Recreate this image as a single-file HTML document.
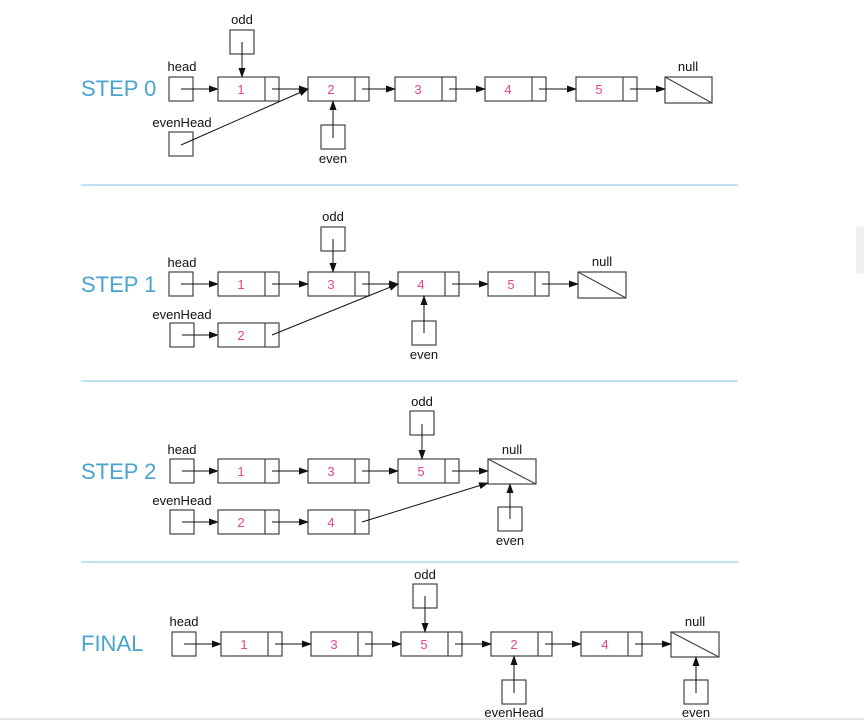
<!DOCTYPE html>
<html><head><meta charset="utf-8"><style>
html,body{margin:0;padding:0;background:#fff;width:864px;height:727px;overflow:hidden}
svg{display:block}
text{font-family:"Liberation Sans",Arial,sans-serif}
.l{font-size:13px;fill:#111;text-anchor:middle}
.n{font-size:13px;fill:#e8448c;text-anchor:middle}
.s{font-size:22px;fill:#4aa3cf}
rect{fill:#fff;stroke:#444;stroke-width:1.2}
line.a{stroke:#111;stroke-width:1;marker-end:url(#ah)}
line.d{stroke:#444;stroke-width:1.2}
</style></head><body>
<svg width="864" height="727" viewBox="0 0 864 727" xmlns="http://www.w3.org/2000/svg">
<defs><marker id="ah" markerWidth="10" markerHeight="8" refX="9" refY="3.5" orient="auto" markerUnits="userSpaceOnUse"><path d="M0,0 L10,3.5 L0,7 z" fill="#111"/></marker></defs>
<rect x="856" y="226" width="10" height="48" rx="3" style="fill:#eef0f2;stroke:none"/>
<line x1="81" y1="185" x2="738" y2="185" stroke="#a8daf2" stroke-width="1.5"/>
<line x1="81" y1="381" x2="738" y2="381" stroke="#a8daf2" stroke-width="1.5"/>
<line x1="81" y1="562" x2="738" y2="562" stroke="#a8daf2" stroke-width="1.5"/>
<line x1="0" y1="719" x2="864" y2="719" stroke="#e4e4e4" stroke-width="2"/>

<!-- STEP 0 -->
<text class="s" x="81" y="96">STEP 0</text>
<text class="l" x="182" y="71">head</text>
<rect x="169" y="77" width="24" height="24"/>
<line class="a" x1="181" y1="89" x2="218" y2="89"/>
<rect x="218" y="77" width="61" height="24"/><line class="d" x1="265" y1="77" x2="265" y2="101"/><text class="n" x="241" y="94">1</text>
<rect x="308" y="77" width="61" height="24"/><line class="d" x1="355" y1="77" x2="355" y2="101"/><text class="n" x="331" y="94">2</text>
<rect x="395" y="77" width="61" height="24"/><line class="d" x1="442" y1="77" x2="442" y2="101"/><text class="n" x="418" y="94">3</text>
<rect x="485" y="77" width="61" height="24"/><line class="d" x1="532" y1="77" x2="532" y2="101"/><text class="n" x="508" y="94">4</text>
<rect x="576" y="77" width="61" height="24"/><line class="d" x1="623" y1="77" x2="623" y2="101"/><text class="n" x="599" y="94">5</text>
<rect x="665" y="77" width="47" height="26"/><line class="d" x1="665" y1="77" x2="712" y2="103"/>
<text class="l" x="688" y="71">null</text>
<line class="a" x1="272" y1="89" x2="308" y2="89"/>
<line class="a" x1="362" y1="89" x2="395" y2="89"/>
<line class="a" x1="449" y1="89" x2="485" y2="89"/>
<line class="a" x1="539" y1="89" x2="576" y2="89"/>
<line class="a" x1="630" y1="89" x2="665" y2="89"/>
<text class="l" x="242" y="24">odd</text>
<rect x="230" y="30" width="24" height="24"/>
<line class="a" x1="242" y1="42" x2="242" y2="77"/>
<text class="l" x="182" y="127">evenHead</text>
<rect x="169" y="132" width="24" height="24"/>
<line class="a" x1="181" y1="145" x2="308" y2="89"/>
<rect x="321" y="125" width="24" height="24"/>
<line class="a" x1="333" y1="138" x2="333" y2="101"/>
<text class="l" x="333" y="163">even</text>

<!-- STEP 1 -->
<text class="s" x="81" y="292">STEP 1</text>
<text class="l" x="182" y="267">head</text>
<rect x="169" y="272" width="24" height="24"/>
<line class="a" x1="181" y1="284" x2="218" y2="284"/>
<rect x="218" y="272" width="61" height="24"/><line class="d" x1="265" y1="272" x2="265" y2="296"/><text class="n" x="241" y="289">1</text>
<rect x="308" y="272" width="61" height="24"/><line class="d" x1="355" y1="272" x2="355" y2="296"/><text class="n" x="331" y="289">3</text>
<rect x="398" y="272" width="61" height="24"/><line class="d" x1="445" y1="272" x2="445" y2="296"/><text class="n" x="421" y="289">4</text>
<rect x="488" y="272" width="61" height="24"/><line class="d" x1="535" y1="272" x2="535" y2="296"/><text class="n" x="511" y="289">5</text>
<rect x="578" y="272" width="48" height="26"/><line class="d" x1="578" y1="272" x2="626" y2="298"/>
<text class="l" x="602" y="266">null</text>
<line class="a" x1="272" y1="284" x2="308" y2="284"/>
<line class="a" x1="362" y1="284" x2="398" y2="284"/>
<line class="a" x1="452" y1="284" x2="488" y2="284"/>
<line class="a" x1="542" y1="284" x2="578" y2="284"/>
<text class="l" x="333" y="221">odd</text>
<rect x="321" y="227" width="24" height="24"/>
<line class="a" x1="333" y1="239" x2="333" y2="272"/>
<text class="l" x="182" y="319">evenHead</text>
<rect x="170" y="323" width="24" height="24"/>
<line class="a" x1="182" y1="335" x2="218" y2="335"/>
<rect x="218" y="323" width="61" height="24"/><line class="d" x1="265" y1="323" x2="265" y2="347"/><text class="n" x="241" y="340">2</text>
<line class="a" x1="272" y1="335" x2="398" y2="284"/>
<rect x="412" y="321" width="24" height="24"/>
<line class="a" x1="424" y1="333" x2="424" y2="296"/>
<text class="l" x="424" y="359">even</text>

<!-- STEP 2 -->
<text class="s" x="81" y="479">STEP 2</text>
<text class="l" x="182" y="454">head</text>
<rect x="170" y="459" width="24" height="24"/>
<line class="a" x1="182" y1="471" x2="218" y2="471"/>
<rect x="218" y="459" width="61" height="24"/><line class="d" x1="265" y1="459" x2="265" y2="483"/><text class="n" x="241" y="476">1</text>
<rect x="308" y="459" width="61" height="24"/><line class="d" x1="355" y1="459" x2="355" y2="483"/><text class="n" x="331" y="476">3</text>
<rect x="398" y="459" width="61" height="24"/><line class="d" x1="445" y1="459" x2="445" y2="483"/><text class="n" x="421" y="476">5</text>
<rect x="488" y="459" width="48" height="25"/><line class="d" x1="488" y1="459" x2="536" y2="484"/>
<text class="l" x="512" y="454">null</text>
<line class="a" x1="272" y1="471" x2="308" y2="471"/>
<line class="a" x1="362" y1="471" x2="398" y2="471"/>
<line class="a" x1="452" y1="471" x2="488" y2="471"/>
<text class="l" x="422" y="406">odd</text>
<rect x="410" y="411" width="24" height="24"/>
<line class="a" x1="422" y1="424" x2="422" y2="459"/>
<text class="l" x="182" y="505">evenHead</text>
<rect x="170" y="510" width="24" height="24"/>
<line class="a" x1="182" y1="522" x2="218" y2="522"/>
<rect x="218" y="510" width="61" height="24"/><line class="d" x1="265" y1="510" x2="265" y2="534"/><text class="n" x="241" y="527">2</text>
<rect x="308" y="510" width="61" height="24"/><line class="d" x1="355" y1="510" x2="355" y2="534"/><text class="n" x="331" y="527">4</text>
<line class="a" x1="272" y1="522" x2="308" y2="522"/>
<line class="a" x1="362" y1="522" x2="488" y2="483"/>
<rect x="498" y="507" width="24" height="24"/>
<line class="a" x1="510" y1="519" x2="510" y2="484"/>
<text class="l" x="510" y="545">even</text>

<!-- FINAL -->
<text class="s" x="81" y="651">FINAL</text>
<text class="l" x="184" y="626">head</text>
<rect x="172" y="632" width="24" height="24"/>
<line class="a" x1="184" y1="644" x2="221" y2="644"/>
<rect x="221" y="632" width="61" height="24"/><line class="d" x1="268" y1="632" x2="268" y2="656"/><text class="n" x="244" y="649">1</text>
<rect x="311" y="632" width="61" height="24"/><line class="d" x1="358" y1="632" x2="358" y2="656"/><text class="n" x="334" y="649">3</text>
<rect x="401" y="632" width="61" height="24"/><line class="d" x1="448" y1="632" x2="448" y2="656"/><text class="n" x="424" y="649">5</text>
<rect x="491" y="632" width="61" height="24"/><line class="d" x1="538" y1="632" x2="538" y2="656"/><text class="n" x="514" y="649">2</text>
<rect x="581" y="632" width="61" height="24"/><line class="d" x1="628" y1="632" x2="628" y2="656"/><text class="n" x="605" y="649">4</text>
<rect x="671" y="632" width="48" height="25"/><line class="d" x1="671" y1="632" x2="719" y2="657"/>
<text class="l" x="695" y="626">null</text>
<line class="a" x1="275" y1="644" x2="311" y2="644"/>
<line class="a" x1="365" y1="644" x2="401" y2="644"/>
<line class="a" x1="455" y1="644" x2="491" y2="644"/>
<line class="a" x1="545" y1="644" x2="581" y2="644"/>
<line class="a" x1="635" y1="644" x2="671" y2="644"/>
<text class="l" x="425" y="579">odd</text>
<rect x="413" y="584" width="24" height="24"/>
<line class="a" x1="425" y1="596" x2="425" y2="632"/>
<rect x="502" y="680" width="24" height="24"/>
<line class="a" x1="514" y1="693" x2="514" y2="656"/>
<text class="l" x="514" y="717">evenHead</text>
<rect x="684" y="680" width="24" height="24"/>
<line class="a" x1="696" y1="693" x2="696" y2="657"/>
<text class="l" x="696" y="717">even</text>
</svg>
</body></html>
